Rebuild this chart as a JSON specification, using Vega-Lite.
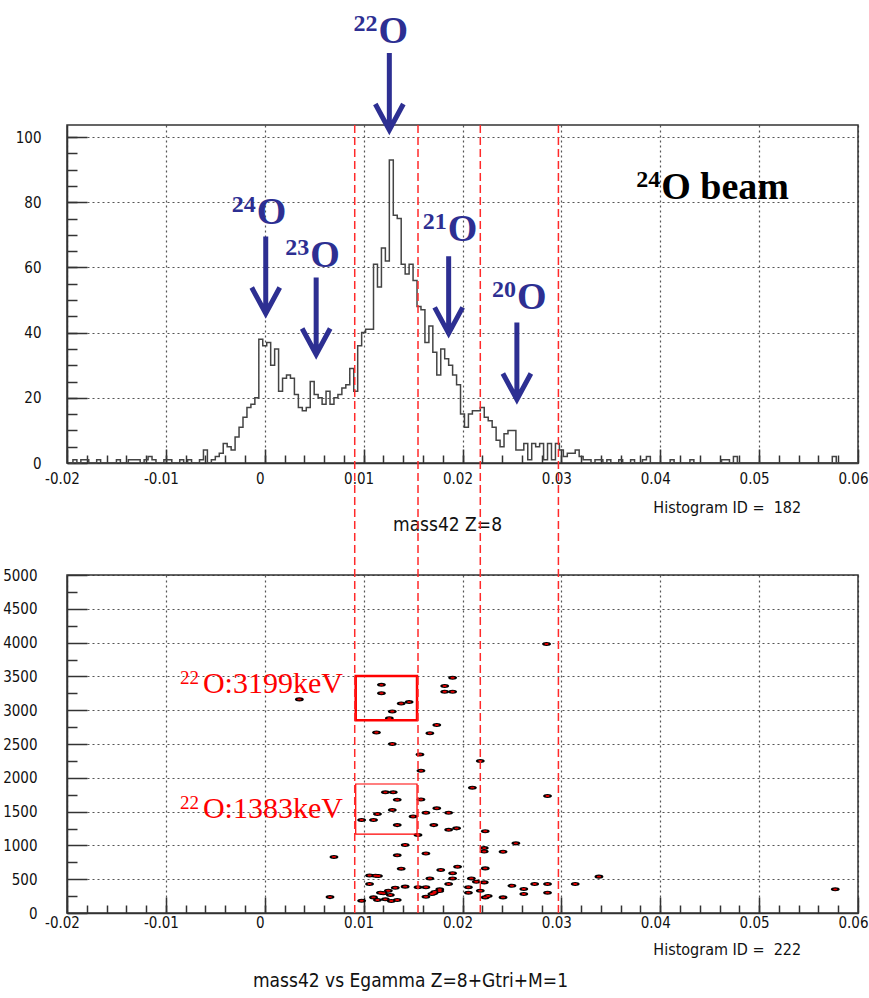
{
"$schema": "https://vega.github.io/schema/vega-lite/v6.json",
"width": 791, "height": 788,
"autosize": {"type": "none"},
"padding": {"left": 67, "top": 125, "right": 11, "bottom": 85},
"background": "white",
"datasets": {
"hist": [
{"x":-0.0198,"n":0},{"x":-0.0194,"n":1},{"x":-0.019,"n":0},{"x":-0.0186,"n":1},{"x":-0.0182,"n":1},{"x":-0.0178,"n":0},{"x":-0.0174,"n":0},{"x":-0.017,"n":1},{"x":-0.0166,"n":0},{"x":-0.0162,"n":0},
{"x":-0.0158,"n":0},{"x":-0.0154,"n":0},{"x":-0.015,"n":1},{"x":-0.0146,"n":0},{"x":-0.0142,"n":0},{"x":-0.0138,"n":1},{"x":-0.0134,"n":1},{"x":-0.013,"n":1},{"x":-0.0126,"n":0},{"x":-0.0122,"n":1},
{"x":-0.0118,"n":2},{"x":-0.0114,"n":1},{"x":-0.011,"n":0},{"x":-0.0106,"n":0},{"x":-0.0102,"n":1},{"x":-0.0098,"n":1},{"x":-0.0094,"n":0},{"x":-0.009,"n":0},{"x":-0.0086,"n":1},{"x":-0.0082,"n":0},
{"x":-0.0078,"n":1},{"x":-0.0074,"n":0},{"x":-0.007,"n":0},{"x":-0.0066,"n":1},{"x":-0.0062,"n":4},{"x":-0.0058,"n":0},{"x":-0.0054,"n":1},{"x":-0.005,"n":2},{"x":-0.0046,"n":3},{"x":-0.0042,"n":6},
{"x":-0.0038,"n":5},{"x":-0.0034,"n":4},{"x":-0.003,"n":8},{"x":-0.0026,"n":11},{"x":-0.0022,"n":14},{"x":-0.0018,"n":17},{"x":-0.0014,"n":18},{"x":-0.001,"n":20},{"x":-0.0006,"n":38},{"x":-0.0002,"n":36},
{"x":0.0002,"n":37},{"x":0.0006,"n":30},{"x":0.001,"n":35},{"x":0.0014,"n":22},{"x":0.0018,"n":26},{"x":0.0022,"n":27},{"x":0.0026,"n":26},{"x":0.003,"n":21},{"x":0.0034,"n":17},{"x":0.0038,"n":16},
{"x":0.0042,"n":17},{"x":0.0046,"n":25},{"x":0.005,"n":21},{"x":0.0054,"n":20},{"x":0.0058,"n":18},{"x":0.0062,"n":22},{"x":0.0066,"n":18},{"x":0.007,"n":20},{"x":0.0074,"n":21},{"x":0.0078,"n":23},
{"x":0.0082,"n":24},{"x":0.0086,"n":29},{"x":0.009,"n":22},{"x":0.0094,"n":36},{"x":0.0098,"n":40},{"x":0.0102,"n":41},{"x":0.0106,"n":41},{"x":0.011,"n":61},{"x":0.0114,"n":54},{"x":0.0118,"n":66},
{"x":0.0122,"n":62},{"x":0.0126,"n":93},{"x":0.013,"n":76},{"x":0.0134,"n":75},{"x":0.0138,"n":61},{"x":0.0142,"n":58},{"x":0.0146,"n":61},{"x":0.015,"n":56},{"x":0.0154,"n":48},{"x":0.0158,"n":47},
{"x":0.0162,"n":37},{"x":0.0166,"n":42},{"x":0.017,"n":34},{"x":0.0174,"n":27},{"x":0.0178,"n":35},{"x":0.0182,"n":32},{"x":0.0186,"n":30},{"x":0.019,"n":27},{"x":0.0194,"n":24},{"x":0.0198,"n":15},
{"x":0.0202,"n":11},{"x":0.0206,"n":15},{"x":0.021,"n":16},{"x":0.0214,"n":16},{"x":0.0218,"n":17},{"x":0.0222,"n":14},{"x":0.0226,"n":13},{"x":0.023,"n":11},{"x":0.0234,"n":7},{"x":0.0238,"n":5},
{"x":0.0242,"n":9},{"x":0.0246,"n":10},{"x":0.025,"n":10},{"x":0.0254,"n":4},{"x":0.0258,"n":4},{"x":0.0262,"n":6},{"x":0.0266,"n":1},{"x":0.027,"n":6},{"x":0.0274,"n":5},{"x":0.0278,"n":6},
{"x":0.0282,"n":1},{"x":0.0286,"n":6},{"x":0.029,"n":1},{"x":0.0294,"n":6},{"x":0.0298,"n":4},{"x":0.0302,"n":2},{"x":0.0306,"n":3},{"x":0.031,"n":3},{"x":0.0314,"n":4},{"x":0.0318,"n":2},
{"x":0.0322,"n":1},{"x":0.0326,"n":1},{"x":0.033,"n":0},{"x":0.0334,"n":1},{"x":0.0338,"n":1},{"x":0.0342,"n":0},{"x":0.0346,"n":1},{"x":0.035,"n":0},{"x":0.0354,"n":0},{"x":0.0358,"n":1},
{"x":0.0362,"n":0},{"x":0.0366,"n":0},{"x":0.037,"n":1},{"x":0.0374,"n":0},{"x":0.0378,"n":0},{"x":0.0382,"n":1},{"x":0.0386,"n":2},{"x":0.039,"n":0},{"x":0.0394,"n":0},{"x":0.0398,"n":0},
{"x":0.0402,"n":0},{"x":0.0406,"n":0},{"x":0.041,"n":1},{"x":0.0414,"n":0},{"x":0.0418,"n":0},{"x":0.0422,"n":0},{"x":0.0426,"n":0},{"x":0.043,"n":1},{"x":0.0434,"n":0},{"x":0.0438,"n":0},
{"x":0.0442,"n":0},{"x":0.0446,"n":0},{"x":0.045,"n":0},{"x":0.0454,"n":0},{"x":0.0458,"n":0},{"x":0.0462,"n":1},{"x":0.0466,"n":1},{"x":0.047,"n":0},{"x":0.0474,"n":2},{"x":0.0478,"n":0},
{"x":0.0482,"n":0},{"x":0.0486,"n":0},{"x":0.049,"n":0},{"x":0.0494,"n":0},{"x":0.0498,"n":0},{"x":0.0502,"n":0},{"x":0.0506,"n":0},{"x":0.051,"n":0},{"x":0.0514,"n":0},{"x":0.0518,"n":0},
{"x":0.0522,"n":0},{"x":0.0526,"n":0},{"x":0.053,"n":0},{"x":0.0534,"n":0},{"x":0.0538,"n":0},{"x":0.0542,"n":0},{"x":0.0546,"n":0},{"x":0.055,"n":0},{"x":0.0554,"n":0},{"x":0.0558,"n":0},
{"x":0.0562,"n":0},{"x":0.0566,"n":0},{"x":0.057,"n":0},{"x":0.0574,"n":2},{"x":0.0578,"n":0},{"x":0.0582,"n":0},{"x":0.0586,"n":0},{"x":0.059,"n":0},{"x":0.0594,"n":0},{"x":0.0598,"n":0},
{"x":0.06,"n":0}
],
"hits": [
{"m":0.0035,"e":3160},{"m":0.0070,"e":830},{"m":0.0066,"e":235},{"m":0.0118,"e":3375},{"m":0.0118,"e":3250},{"m":0.0138,"e":3100},{"m":0.0146,"e":3120},{"m":0.0129,"e":2980},{"m":0.0126,"e":2880},{"m":0.0113,"e":2670},
{"m":0.0129,"e":2500},{"m":0.0157,"e":2345},{"m":0.0158,"e":2105},{"m":0.0122,"e":1785},{"m":0.0130,"e":1785},{"m":0.0134,"e":1675},{"m":0.0129,"e":1525},{"m":0.0114,"e":1465},{"m":0.0110,"e":1375},{"m":0.0098,"e":1375},
{"m":0.0134,"e":1300},{"m":0.0150,"e":1428},{"m":0.0155,"e":1155},{"m":0.0158,"e":1680},{"m":0.0163,"e":1484},{"m":0.0174,"e":1548},{"m":0.0186,"e":1484},{"m":0.0171,"e":1300},{"m":0.0186,"e":1230},{"m":0.0194,"e":1252},
{"m":0.0142,"e":1005},{"m":0.0134,"e":853},{"m":0.0163,"e":880},{"m":0.0138,"e":656},{"m":0.0106,"e":555},{"m":0.0112,"e":550},{"m":0.0115,"e":548},{"m":0.0106,"e":430},{"m":0.0132,"e":374},{"m":0.0142,"e":390},
{"m":0.0155,"e":380},{"m":0.0163,"e":380},{"m":0.0167,"e":512},{"m":0.0178,"e":636},{"m":0.0190,"e":587},{"m":0.0190,"e":512},{"m":0.0186,"e":430},{"m":0.0177,"e":350},{"m":0.0172,"e":310},{"m":0.0169,"e":281},
{"m":0.0163,"e":241},{"m":0.0195,"e":685},{"m":0.0098,"e":182},{"m":0.0110,"e":231},{"m":0.0117,"e":300},{"m":0.0120,"e":291},{"m":0.0125,"e":330},{"m":0.0127,"e":266},{"m":0.0122,"e":202},{"m":0.0114,"e":192},
{"m":0.0128,"e":177},{"m":0.0134,"e":192},{"m":0.0218,"e":2250},{"m":0.0210,"e":1854},{"m":0.0286,"e":1730},{"m":0.0223,"e":1210},{"m":0.0254,"e":1030},{"m":0.0241,"e":907},{"m":0.0222,"e":960},{"m":0.0222,"e":910},
{"m":0.0223,"e":660},{"m":0.0209,"e":512},{"m":0.0214,"e":463},{"m":0.0222,"e":453},{"m":0.0206,"e":380},{"m":0.0206,"e":301},{"m":0.0218,"e":330},{"m":0.0250,"e":404},{"m":0.0262,"e":355},{"m":0.0262,"e":280},
{"m":0.0273,"e":430},{"m":0.0286,"e":430},{"m":0.0286,"e":301},{"m":0.0241,"e":231},{"m":0.0223,"e":231},{"m":0.0226,"e":251},{"m":0.0314,"e":430},{"m":0.0285,"e":3980},{"m":0.0190,"e":3481},{"m":0.0182,"e":3358},
{"m":0.0182,"e":3274},{"m":0.0190,"e":3274},{"m":0.0174,"e":2781},{"m":0.0167,"e":2658},{"m":0.0338,"e":538},{"m":0.0577,"e":350},{"m":0.0171,"e":291},{"m":0.0177,"e":325}
],
"gates": [
{"line":3199,"m0":0.0092,"m1":0.0154,"e0":2853,"e1":3505},
{"line":1383,"m0":0.0092,"m1":0.0154,"e0":1168,"e1":1908}
],
"gateLabels": [
{"iso":"22","txt":"O:3199keV","m":-0.00625,"e":3254},
{"iso":"22","txt":"O:1383keV","m":-0.00625,"e":1405}
],
"cuts": [{"m":0.0091},{"m":0.0155},{"m":0.0218},{"m":0.0297}],
"peaks": [
{"iso":"22","txt":"O","m":0.0115,"n":128.9},
{"iso":"24","txt":"O","m":-0.0008,"n":73.3},
{"iso":"23","txt":"O","m":0.0046,"n":60.2},
{"iso":"21","txt":"O","m":0.0185,"n":68.2},
{"iso":"20","txt":"O","m":0.0255,"n":47.1},
{"iso":"24","txt":"O beam","m":0.0401,"n":80.9}
],
"arrows": [
{"m":0.0126,"n":114.0},{"m":0.0001,"n":57.7},{"m":0.0052,"n":45.1},{"m":0.0186,"n":51.6},{"m":0.0255,"n":31.3}
]
},
"config": {
"view": {"stroke": null},
"axis": {
"labelFont": "Liberation Sans Narrow, DejaVu Sans Condensed, Liberation Sans, sans-serif",
"labelFontSize": 15, "labelColor": "#111",
"titleFont": "Liberation Sans Narrow, DejaVu Sans Condensed, Liberation Sans, sans-serif",
"titleFontSize": 19, "titleFontWeight": "normal", "titleColor": "#111",
"domainColor": "#333", "domainWidth": 1.5,
"tickColor": "#333", "tickWidth": 1.5,
"gridColor": "#555", "gridDash": [2, 3], "gridWidth": 1.2, "gridOpacity": 1,
"labelFlush": false, "labelOverlap": false
}
},
"resolve": {"scale": {"x": "independent", "y": "independent"}},
"layer": [
{
"data": {"values": [{}]},
"mark": {"type": "rect", "filled": false, "stroke": "#333", "strokeWidth": 1.5},
"encoding": {
"x": {"datum": -0.02, "type": "quantitative", "scale": {"domain": [-0.02, 0.06], "nice": false, "zero": false},
"axis": {"orient": "bottom", "values": [-0.018,-0.016,-0.014,-0.012,-0.01,-0.008,-0.006,-0.004,-0.002,0,0.002,0.004,0.006,0.008,0.01,0.012,0.014,0.016,0.018,0.02,0.022,0.024,0.026,0.028,0.03,0.032,0.034,0.036,0.038,0.04,0.042,0.044,0.046,0.048,0.05,0.052,0.054,0.056,0.058], "labels": false, "grid": false, "domain": false, "tickSize": -8, "title": null}},
"x2": {"datum": 0.06},
"y": {"datum": 0, "type": "quantitative", "scale": {"domain": [0, 103.7], "range": [338, 0], "nice": false, "zero": false},
"axis": {"orient": "left", "values": [5,10,15,20,25,30,35,40,45,50,55,60,65,70,75,80,85,90,95,100], "labels": false, "grid": false, "domain": false, "tickSize": -10, "title": null}},
"y2": {"datum": 103.7}
}
},
{
"data": {"name": "hist"},
"mark": {"type": "line", "interpolate": "step-after", "color": "#444", "strokeWidth": 1.5},
"encoding": {
"x": {"field": "x", "type": "quantitative", "scale": {"domain": [-0.02, 0.06], "nice": false, "zero": false},
"axis": {"orient": "bottom", "values": [-0.02,-0.01,0,0.01,0.02,0.03,0.04,0.05,0.06], "labelExpr": "datum.value + ''", "tickSize": -16, "labelPadding": 18, "labelBaseline": "top", "labelOffset": -5, "grid": true, "domain": true,
"title": "mass42 vs Egamma Z=8+Gtri+M=1", "titleX": 343, "titleY": 73, "titleBaseline": "alphabetic"}},
"y": {"field": "n", "type": "quantitative", "scale": {"domain": [0, 103.7], "range": [338, 0], "nice": false, "zero": false},
"axis": {"orient": "left", "values": [0,20,40,60,80,100], "labelExpr": "datum.value + ''", "tickSize": -20, "labelPadding": 46, "labelBaseline": "middle", "labelAlign": "right", "grid": true, "domain": true, "title": null}}
}
},
{
"data": {"values": [{}]},
"mark": {"type": "rect", "filled": false, "stroke": "#333", "strokeWidth": 1.5},
"encoding": {
"x": {"datum": -0.02, "type": "quantitative", "scale": {"domain": [-0.02, 0.06], "nice": false, "zero": false},
"axis": {"orient": "bottom", "offset": -450, "values": [-0.018,-0.016,-0.014,-0.012,-0.01,-0.008,-0.006,-0.004,-0.002,0,0.002,0.004,0.006,0.008,0.01,0.012,0.014,0.016,0.018,0.02,0.022,0.024,0.026,0.028,0.03,0.032,0.034,0.036,0.038,0.04,0.042,0.044,0.046,0.048,0.05,0.052,0.054,0.056,0.058], "labels": false, "grid": false, "domain": false, "tickSize": -8, "title": null}},
"x2": {"datum": 0.06},
"y": {"datum": 0, "type": "quantitative", "scale": {"domain": [0, 5000], "range": [788, 450], "nice": false, "zero": false},
"axis": {"orient": "left", "values": [250,750,1250,1750,2250,2750,3250,3750,4250,4750], "labels": false, "grid": false, "domain": false, "tickSize": -10, "title": null}},
"y2": {"datum": 5000}
}
},
{
"data": {"name": "hits"},
"mark": {"type": "point", "shape": "M-1,0A1,0.45,0,1,0,1,0A1,0.45,0,1,0,-1,0Z", "filled": true, "color": "#000", "size": 80, "opacity": 1},
"encoding": {
"x": {"field": "m", "type": "quantitative", "scale": {"domain": [-0.02, 0.06], "nice": false, "zero": false},
"axis": {"orient": "bottom", "offset": -450, "values": [-0.02,-0.01,0,0.01,0.02,0.03,0.04,0.05,0.06], "labelExpr": "datum.value + ''", "tickSize": -14, "labelPadding": 22, "labelBaseline": "top", "labelOffset": -5, "grid": true, "domain": true,
"title": "mass42 Z=8", "titleX": 380, "titleY": 67, "titleBaseline": "alphabetic"}},
"y": {"field": "e", "type": "quantitative", "scale": {"domain": [0, 5000], "range": [788, 450], "nice": false, "zero": false},
"axis": {"orient": "left", "values": [0,500,1000,1500,2000,2500,3000,3500,4000,4500,5000], "labelExpr": "datum.value + ''", "tickSize": -20, "labelPadding": 50, "labelBaseline": "middle", "labelAlign": "right", "grid": true, "domain": true, "title": null}}
}
},
{
"data": {"name": "hits"},
"mark": {"type": "point", "shape": "M-1,0A1,0.45,0,1,0,1,0A1,0.45,0,1,0,-1,0Z", "filled": true, "color": "#e00000", "size": 18, "opacity": 1},
"encoding": {
"x": {"field": "m", "type": "quantitative", "scale": {"domain": [-0.02, 0.06], "nice": false, "zero": false}, "axis": null},
"y": {"field": "e", "type": "quantitative", "scale": {"domain": [0, 5000], "range": [788, 450], "nice": false, "zero": false}, "axis": null}
}
},
{
"data": {"name": "gates"},
"mark": {"type": "rect", "filled": false, "stroke": "#ff0000"},
"encoding": {
"x": {"field": "m0", "type": "quantitative", "scale": {"domain": [-0.02, 0.06], "nice": false, "zero": false}, "axis": null},
"x2": {"field": "m1"},
"y": {"field": "e0", "type": "quantitative", "scale": {"domain": [0, 5000], "range": [788, 450], "nice": false, "zero": false}, "axis": null},
"y2": {"field": "e1"},
"strokeWidth": {"condition": {"test": "datum.line == 3199", "value": 2.5}, "value": 1.2}
}
},
{
"data": {"name": "gateLabels"},
"mark": {"type": "text", "align": "left", "baseline": "alphabetic", "font": "Liberation Serif", "fontSize": 30, "color": "#ff0000"},
"encoding": {
"x": {"field": "m", "type": "quantitative", "scale": {"domain": [-0.02, 0.06], "nice": false, "zero": false}, "axis": null},
"y": {"field": "e", "type": "quantitative", "scale": {"domain": [0, 5000], "range": [788, 450], "nice": false, "zero": false}, "axis": null},
"text": {"field": "txt"}
}
},
{
"data": {"name": "gateLabels"},
"mark": {"type": "text", "align": "right", "baseline": "alphabetic", "font": "Liberation Serif", "fontSize": 19, "color": "#ff0000", "dx": -4, "dy": -9},
"encoding": {
"x": {"field": "m", "type": "quantitative", "scale": {"domain": [-0.02, 0.06], "nice": false, "zero": false}, "axis": null},
"y": {"field": "e", "type": "quantitative", "scale": {"domain": [0, 5000], "range": [788, 450], "nice": false, "zero": false}, "axis": null},
"text": {"field": "iso"}
}
},
{
"data": {"name": "arrows"},
"mark": {"type": "point", "shape": "M0,-1L0,1M-0.364,0.325L0,1L0.364,0.325", "filled": false, "color": "#2d2f92", "strokeWidth": 5, "size": 5929, "opacity": 1},
"encoding": {
"x": {"field": "m", "type": "quantitative", "scale": {"domain": [-0.02, 0.06], "nice": false, "zero": false}, "axis": null},
"y": {"field": "n", "type": "quantitative", "scale": {"domain": [0, 103.7], "range": [338, 0], "nice": false, "zero": false}, "axis": null}
}
},
{
"data": {"name": "peaks"},
"mark": {"type": "text", "align": "left", "baseline": "alphabetic", "font": "Liberation Serif", "fontWeight": "bold", "fontSize": 38},
"encoding": {
"x": {"field": "m", "type": "quantitative", "scale": {"domain": [-0.02, 0.06], "nice": false, "zero": false}, "axis": null},
"y": {"field": "n", "type": "quantitative", "scale": {"domain": [0, 103.7], "range": [338, 0], "nice": false, "zero": false}, "axis": null},
"text": {"field": "txt"},
"color": {"condition": {"test": "datum.txt == 'O beam'", "value": "#000000"}, "value": "#2d2f92"}
}
},
{
"data": {"name": "peaks"},
"mark": {"type": "text", "align": "right", "baseline": "alphabetic", "font": "Liberation Serif", "fontWeight": "bold", "fontSize": 24, "dx": -1, "dy": -12},
"encoding": {
"x": {"field": "m", "type": "quantitative", "scale": {"domain": [-0.02, 0.06], "nice": false, "zero": false}, "axis": null},
"y": {"field": "n", "type": "quantitative", "scale": {"domain": [0, 103.7], "range": [338, 0], "nice": false, "zero": false}, "axis": null},
"text": {"field": "iso"},
"color": {"condition": {"test": "datum.txt == 'O beam'", "value": "#000000"}, "value": "#2d2f92"}
}
},
{
"data": {"values": [{}]},
"mark": {"type": "text", "align": "left", "baseline": "alphabetic", "font": "Liberation Sans Narrow, DejaVu Sans Condensed, Liberation Sans, sans-serif", "fontSize": 16, "color": "#111", "text": "Histogram ID =\u00a0 182"},
"encoding": {
"x": {"datum": 0.0393, "type": "quantitative", "scale": {"domain": [-0.02, 0.06], "nice": false, "zero": false}, "axis": null},
"y": {"datum": -15.3, "type": "quantitative", "scale": {"domain": [0, 103.7], "range": [338, 0], "nice": false, "zero": false}, "axis": null}
}
},
{
"data": {"values": [{}]},
"mark": {"type": "text", "align": "left", "baseline": "alphabetic", "font": "Liberation Sans Narrow, DejaVu Sans Condensed, Liberation Sans, sans-serif", "fontSize": 16, "color": "#111", "text": "Histogram ID =\u00a0 222"},
"encoding": {
"x": {"datum": 0.0393, "type": "quantitative", "scale": {"domain": [-0.02, 0.06], "nice": false, "zero": false}, "axis": null},
"y": {"datum": -621, "type": "quantitative", "scale": {"domain": [0, 5000], "range": [788, 450], "nice": false, "zero": false}, "axis": null}
}
},
{
"data": {"name": "cuts"},
"mark": {"type": "rule", "color": "#ff2a2a", "strokeWidth": 1.5, "strokeDash": [8, 4]},
"encoding": {
"x": {"field": "m", "type": "quantitative", "scale": {"domain": [-0.02, 0.06], "nice": false, "zero": false}, "axis": null}
}
}
]
}
